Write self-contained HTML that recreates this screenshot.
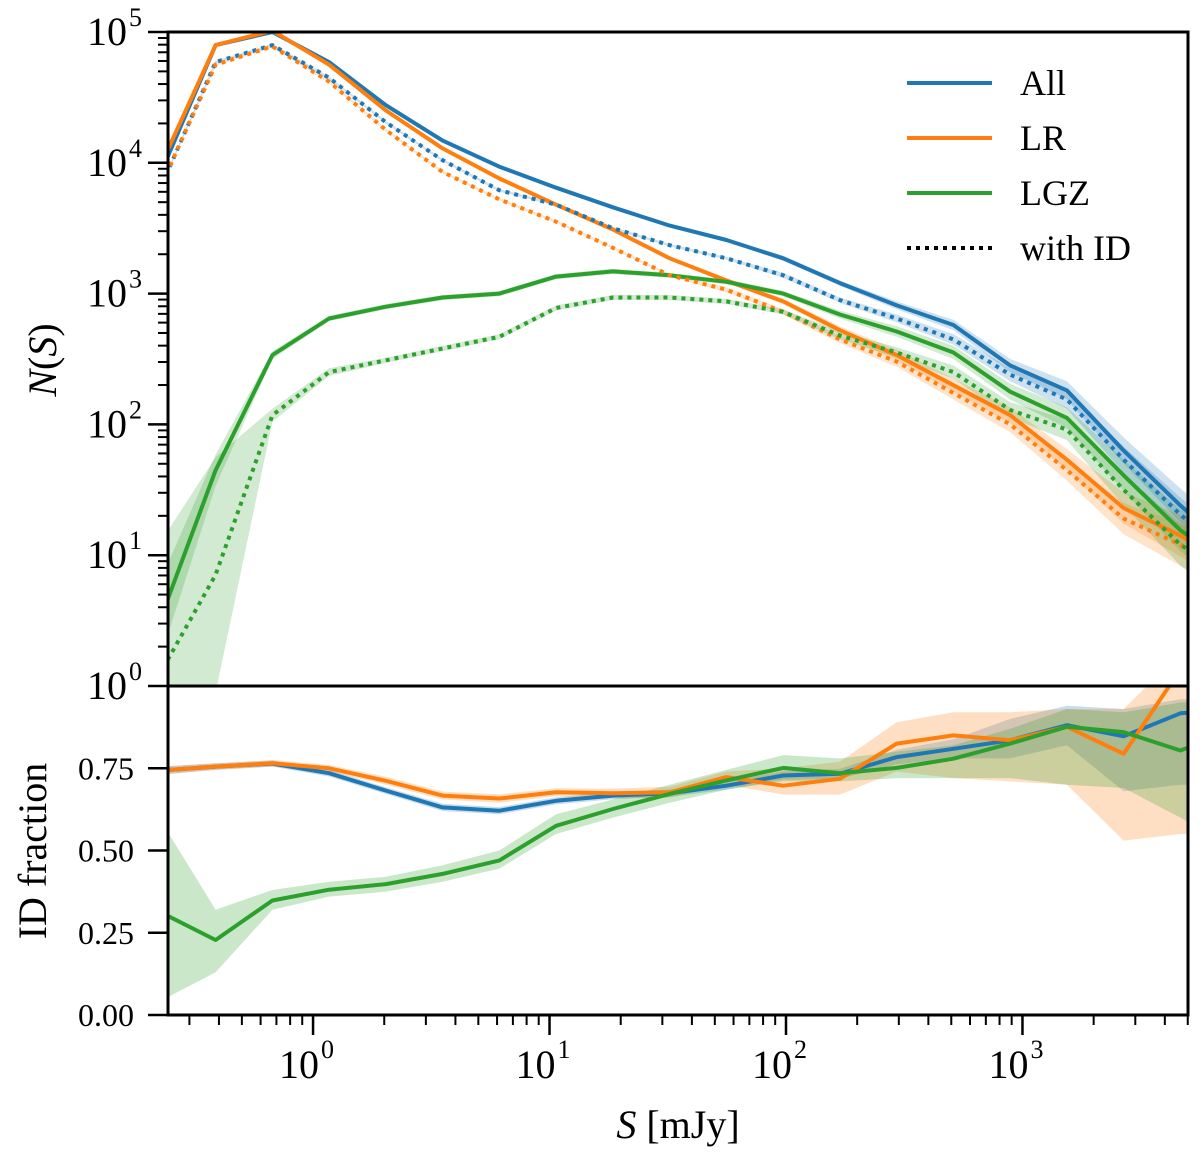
<!DOCTYPE html>
<html><head><meta charset="utf-8"><style>
body{margin:0;background:#fff;}
svg{display:block;font-family:"Liberation Serif",serif;}
</style></head><body>
<svg id="chart" width="1200" height="1159" viewBox="0 0 1200 1159" xmlns="http://www.w3.org/2000/svg">
<defs>
<clipPath id="clipTop"><rect x="168" y="32" width="1020" height="654"/></clipPath>
<clipPath id="clipBot"><rect x="168" y="686" width="1020" height="329"/></clipPath>
</defs>
<g id="topBands" clip-path="url(#clipTop)"></g>
<g id="topLines" clip-path="url(#clipTop)"></g>
<g id="botBands" clip-path="url(#clipBot)"></g>
<g id="botLines" clip-path="url(#clipBot)"></g>
<g id="axes"></g>
<g id="legend">
  <line x1="907" y1="83" x2="992" y2="83" stroke="#1f77b4" stroke-width="4"/>
  <text x="1020" y="95" font-size="36">All</text>
  <line x1="907" y1="138" x2="992" y2="138" stroke="#ff7f0e" stroke-width="4"/>
  <text x="1020" y="150" font-size="36">LR</text>
  <line x1="907" y1="193" x2="992" y2="193" stroke="#2ca02c" stroke-width="4"/>
  <text x="1020" y="205" font-size="36">LGZ</text>
  <line x1="907" y1="248" x2="992" y2="248" stroke="#000" stroke-width="4" stroke-dasharray="4 5"/>
  <text x="1020" y="260" font-size="36">with ID</text>
</g>
<text x="0" y="0" transform="translate(56,360) rotate(-90)" text-anchor="middle" font-size="40"><tspan font-style="italic">N</tspan>(<tspan font-style="italic">S</tspan>)</text>
<text x="0" y="0" transform="translate(46,851) rotate(-90)" text-anchor="middle" font-size="40">ID fraction</text>
<text x="678" y="1138" text-anchor="middle" font-size="40"><tspan font-style="italic">S</tspan> [mJy]</text>
</svg>
<script>
// log10(S) of bin centres
const binLogS = [-0.652,-0.412,-0.172,0.068,0.308,0.548,0.788,1.028,1.268,1.508,1.748,1.988,2.228,2.468,2.708,2.948,3.188,3.428,3.668,3.908];
// log10 N(S)
const allSolid = [3.89,4.90,5.00,4.77,4.44,4.17,3.97,3.81,3.66,3.52,3.41,3.27,3.08,2.91,2.76,2.45,2.26,1.80,1.38,1.0];
const lrSolid  = [3.95,4.90,5.01,4.75,4.40,4.11,3.88,3.68,3.49,3.27,3.10,2.94,2.72,2.53,2.30,2.07,1.73,1.36,1.15,0.9];
const lgzSolid = [0.48,1.65,2.53,2.81,2.90,2.97,3.00,3.13,3.17,3.14,3.09,3.00,2.84,2.71,2.55,2.25,2.05,1.61,1.19,0.9];
const allId    = [3.78,4.77,4.90,4.65,4.31,4.02,3.79,3.68,3.50,3.37,3.27,3.14,2.95,2.81,2.65,2.38,2.19,1.73,1.31,0.95];
const lrId     = [3.79,4.75,4.89,4.62,4.25,3.93,3.72,3.55,3.35,3.14,3.03,2.86,2.65,2.48,2.24,2.00,1.65,1.28,1.08,0.85];
const lgzId    = [0.08,0.85,2.07,2.40,2.49,2.58,2.67,2.89,2.97,2.97,2.94,2.86,2.68,2.55,2.40,2.11,1.96,1.50,1.08,0.8];
// uncertainty in dex
const errAll = [0.01,0.01,0.01,0.01,0.01,0.01,0.01,0.01,0.01,0.01,0.01,0.02,0.02,0.03,0.04,0.05,0.07,0.1,0.13,0.15];
const errLr  = [0.01,0.01,0.01,0.01,0.01,0.01,0.01,0.01,0.01,0.01,0.02,0.02,0.03,0.04,0.05,0.06,0.08,0.12,0.16,0.18];
const errLgz = [0.3,0.12,0.03,0.02,0.02,0.02,0.02,0.02,0.02,0.02,0.02,0.02,0.03,0.04,0.05,0.06,0.08,0.12,0.16,0.18];
const errLgzId=[1.0,0.9,0.05,0.03,0.02,0.02,0.02,0.02,0.02,0.02,0.02,0.02,0.03,0.04,0.05,0.06,0.08,0.12,0.16,0.18];
// ID fractions
const fracAll = [0.743,0.755,0.764,0.735,0.682,0.631,0.621,0.651,0.667,0.674,0.697,0.728,0.733,0.784,0.809,0.835,0.881,0.847,0.917,0.93];
const fracLr  = [0.743,0.755,0.765,0.750,0.712,0.667,0.658,0.677,0.674,0.677,0.723,0.697,0.718,0.825,0.850,0.835,0.876,0.794,1.05,1.2];
const fracLgz = [0.315,0.228,0.348,0.381,0.398,0.429,0.470,0.575,0.626,0.672,0.713,0.751,0.735,0.751,0.779,0.825,0.876,0.860,0.804,0.87];
const loAll = [0.73,0.745,0.755,0.725,0.672,0.62,0.61,0.64,0.656,0.663,0.685,0.715,0.718,0.762,0.78,0.78,0.82,0.68,0.70,0.70];
const hiAll = [0.755,0.765,0.774,0.745,0.692,0.642,0.632,0.662,0.678,0.685,0.709,0.741,0.748,0.806,0.838,0.90,0.94,0.93,0.96,0.96];
const loLr  = [0.73,0.745,0.755,0.74,0.70,0.655,0.645,0.665,0.66,0.66,0.70,0.67,0.67,0.74,0.72,0.71,0.70,0.53,0.55,0.55];
const hiLr  = [0.755,0.765,0.775,0.76,0.724,0.679,0.671,0.689,0.688,0.694,0.74,0.75,0.77,0.89,0.92,0.92,0.93,0.93,1.1,1.2];
const loLgz = [0.04,0.13,0.32,0.36,0.375,0.405,0.445,0.55,0.60,0.645,0.685,0.71,0.71,0.72,0.72,0.72,0.70,0.69,0.60,0.50];
const hiLgz = [0.60,0.32,0.38,0.405,0.42,0.455,0.50,0.61,0.655,0.70,0.745,0.79,0.78,0.80,0.82,0.87,0.93,0.92,0.95,0.95];

const NS='http://www.w3.org/2000/svg';
const X0=168,X1=1188,LOGMIN=-0.6134,LOGMAX=3.7;
const xs=v=>X0+(v-LOGMIN)/(LOGMAX-LOGMIN)*(X1-X0);
const yTop=v=>686-(v/5)*654;
const yBot=v=>1015-v*329;
function el(tag,attrs,parent){const e=document.createElementNS(NS,tag);for(const k in attrs)e.setAttribute(k,attrs[k]);parent.appendChild(e);return e;}
function pts(arr,ys){return arr.map((v,i)=>xs(binLogS[i]).toFixed(1)+','+ys(v).toFixed(1)).join(' ');}
function band(lo,hi,ys){const a=lo.map((v,i)=>xs(binLogS[i]).toFixed(1)+','+ys(v).toFixed(1));const b=hi.map((v,i)=>xs(binLogS[i]).toFixed(1)+','+ys(v).toFixed(1)).reverse();return a.concat(b).join(' ');}
const C={all:'#1f77b4',lr:'#ff7f0e',lgz:'#2ca02c'};
const tb=document.getElementById('topBands'),tl=document.getElementById('topLines');
const bb=document.getElementById('botBands'),bl=document.getElementById('botLines');

const topSeries=[['all-solid',allSolid,errAll,C.all,false],['lr-solid',lrSolid,errLr,C.lr,false],['lgz-solid',lgzSolid,errLgz,C.lgz,false],
 ['all-withid',allId,errAll,C.all,true],['lr-withid',lrId,errLr,C.lr,true],['lgz-withid',lgzId,errLgzId,C.lgz,true]];
topSeries.forEach(s=>{
  const p=el('polygon',{points:band(s[1].map((v,i)=>v-s[2][i]),s[1].map((v,i)=>v+s[2][i]),yTop),fill:s[3],'fill-opacity':0.22},tb);
  
  
});
topSeries.forEach(s=>{
  const a={points:pts(s[1],yTop),fill:'none',stroke:s[3],'stroke-width':4,'stroke-linejoin':'round'};
  if(s[4])a['stroke-dasharray']='4 5';
  const l=el('polyline',a,tl);
  
  
});
const botSeries=[['all-fraction',fracAll,loAll,hiAll,C.all],['lr-fraction',fracLr,loLr,hiLr,C.lr],['lgz-fraction',fracLgz,loLgz,hiLgz,C.lgz]];
botSeries.forEach(s=>{
  const p=el('polygon',{points:band(s[2],s[3],yBot),fill:s[4],'fill-opacity':0.25},bb);
  
  
});
botSeries.forEach(s=>{
  const l=el('polyline',{points:pts(s[1],yBot),fill:'none',stroke:s[4],'stroke-width':4,'stroke-linejoin':'round'},bl);
  
  
});

const ax=document.getElementById('axes');
const f1=el('rect',{x:168,y:32,width:1020,height:654,fill:'none',stroke:'#000','stroke-width':3},ax);


const f2=el('rect',{x:168,y:686,width:1020,height:329,fill:'none',stroke:'#000','stroke-width':3},ax);


const yTopTicks=[0,1,2,3,4,5];
yTopTicks.forEach(d=>{
  const y=yTop(d);
  el('line',{x1:148,y1:y,x2:168,y2:y,stroke:'#000','stroke-width':2.5},ax);
  const t=el('text',{x:127,y:y+13,'text-anchor':'end','font-size':40},ax);
  
  
  t.textContent='10';
  const s=el('text',{x:129,y:y-6,'font-size':26},ax);
  
  
  s.textContent=String(d);
  if(d<5)for(let m=2;m<10;m++){const ym=yTop(d+Math.log10(m));el('line',{x1:158,y1:ym,x2:168,y2:ym,stroke:'#000','stroke-width':2},ax);}
});
const yBotTicks=[0,0.25,0.5,0.75];
yBotTicks.forEach(v=>{
  const y=yBot(v);
  el('line',{x1:148,y1:y,x2:168,y2:y,stroke:'#000','stroke-width':2.5},ax);
  const t=el('text',{x:134,y:y+11,'text-anchor':'end','font-size':32},ax);
  
  
  t.textContent=v.toFixed(2);
});
const xTicks=[0,1,2,3];
for(let d=-1;d<=3;d++){
  for(let m=1;m<10;m++){
    const lv=d+Math.log10(m);if(lv<LOGMIN||lv>LOGMAX)continue;
    const x=xs(lv);
    el('line',{x1:x,y1:1015,x2:x,y2:m===1?1035:1025,stroke:'#000','stroke-width':m===1?2.5:2},ax);
  }
}
xTicks.forEach(d=>{
  const x=xs(d);
  const t=el('text',{x:x+6,y:1078,'text-anchor':'end','font-size':40},ax);
  
  
  t.textContent='10';
  const s=el('text',{x:x+8,y:1058,'font-size':26},ax);
  
  
  s.textContent=String(d);
});
</script>
</body></html>
